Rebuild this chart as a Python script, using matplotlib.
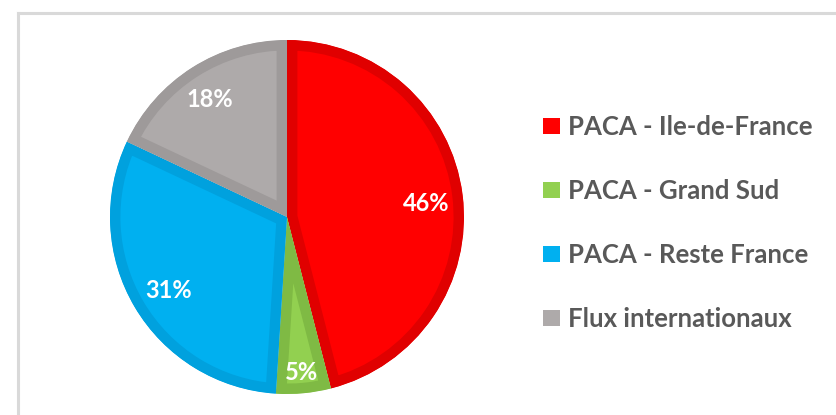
import matplotlib
matplotlib.use("Agg")
import numpy as np
import matplotlib.pyplot as plt
from matplotlib.patches import Patch

# data
labels = ["PACA - Ile-de-France", "PACA - Grand Sud", "PACA - Reste France", "Flux internationaux"]
shares = [46, 5, 31, 18]
face_colors = ["#FF0000", "#92D050", "#00B0F0", "#AEAAAA"]
edge_colors = ["#E00000", "#7FBA44", "#00A1DE", "#9E9A9A"]
label_dist = [0.79, 0.86, 0.78, 0.81]

W, H = 837, 415
fig = plt.figure(figsize=(W / 100, H / 100), dpi=100)
fig.patch.set_facecolor("white")

# light frame around the chart area (top and left visible)
frame = fig.add_axes([18 / W, 0, 1 - 18 / W, (H - 13) / H])
frame.set_xticks([])
frame.set_yticks([])
for side in ["right", "bottom"]:
    frame.spines[side].set_visible(False)
for side in ["top", "left"]:
    frame.spines[side].set_color("#D9D9D9")
    frame.spines[side].set_linewidth(2.2)
frame.patch.set_alpha(0)

# pie axes: centre (287, 217) px, radius 177 px
cx, cy, r = 287, 217, 177
ax = fig.add_axes([(cx - r) / W, (H - cy - r) / H, 2 * r / W, 2 * r / H])
wedges, texts, autotexts = ax.pie(
    shares,
    colors=face_colors,
    startangle=90,
    counterclock=False,
    autopct=lambda p: f"{p:.0f}%",
    pctdistance=0.8,
    textprops=dict(color="white", fontsize=17, fontweight="bold", family="Lato"),
)
for w, ec, t, d in zip(wedges, edge_colors, autotexts, label_dist):
    w.set_edgecolor(ec)
    w.set_linewidth(15)
    # keep the border inside each slice (pie turns clipping off)
    w.set_clip_on(True)
    w.set_clip_path(w.get_path(), w.get_transform())
    mid = np.deg2rad((w.theta1 + w.theta2) / 2)
    t.set_position((d * np.cos(mid), d * np.sin(mid) - 0.02))
ax.set_xlim(-1, 1)
ax.set_ylim(-1, 1)
ax.set_aspect("equal")

handles = [Patch(facecolor=c, edgecolor="none") for c in face_colors]
fig.legend(
    handles, labels,
    loc="center left",
    bbox_to_anchor=(543 / W, (H - 223) / H),
    frameon=False,
    borderpad=0,
    borderaxespad=0,
    handlelength=0.66,
    handleheight=0.6,
    handletextpad=0.3,
    labelspacing=1.55,
    prop=dict(family="Lato", weight="bold", size=18.5),
    labelcolor="#595959",
)

fig.savefig("out.png", dpi=100, facecolor="white")
